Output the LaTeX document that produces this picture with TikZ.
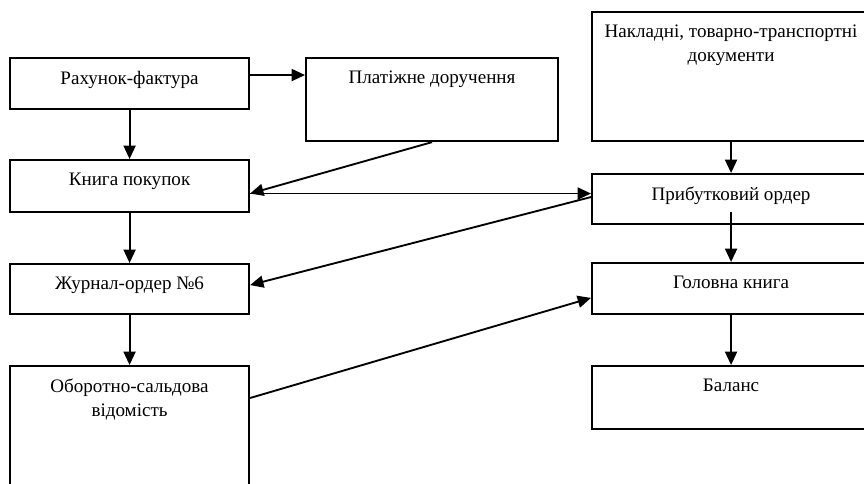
\documentclass[tikz,border=0pt]{standalone}
\usepackage{fontspec}
\setmainfont{Liberation Serif}
\usepackage{tikz}
\usetikzlibrary{positioning, arrows.meta, shapes}
\tikzset{
    doc/.style={draw, rectangle, line width=1.6pt, anchor=north west, inner sep=0pt, minimum width=179.25pt},
    docR/.style={doc, minimum width=208.5pt},
    doctext/.style={anchor=north, yshift=-10.5pt, inner sep=0pt, align=center, font=\fontsize{14.3pt}{18pt}\selectfont},
    conn/.style={-{Triangle[length=10pt, width=9pt]}, line width=1.4pt},
}
\begin{document}
\begin{tikzpicture}[x=0.75pt, y=-0.75pt]
            \fill[white] (0,0) rectangle (864,484);
            \clip (0,0) rectangle (864,484);

            \node [doc, minimum height=38.25pt, label={[doctext]north:Рахунок-фактура}] (fact) at (9,57) {};
            \node [doc, minimum width=189pt, minimum height=62.25pt, label={[doctext]north:Платіжне доручення}] (pay) at (305,57) {};
            \node [doc, minimum height=39pt, label={[doctext]north:Книга покупок}] (buyb) at (9,159) {};
            \node [doc, minimum height=37.5pt, label={[doctext]north:Журнал-ордер №6}] (jour) at (9,263) {};
            \node [doc, minimum height=105pt, label={[doctext]north:Оборотно-сальдова\\відомість}] (turn) at (9,365) {};

            \node [docR, minimum height=96.75pt, label={[doctext]north:Накладні, товарно-транспортні\\документи}] (wayb) at (591,11) {};
            \node [docR, minimum height=37.5pt, label={[doctext]north:Прибутковий ордер}] (recv) at (591,173) {};
            \node [docR, minimum height=38.25pt, label={[doctext]north:Головна книга}] (ledg) at (591,262) {};
            \node [docR, minimum height=47.25pt, label={[doctext]north:Баланс}] (bal) at (591,365) {};

            \coordinate (f1) at ([yshift=6.4pt]fact.east);
            \coordinate (b1) at ([yshift=-5.6pt]buyb.east);
            \coordinate (j1) at ([yshift=3pt]jour.east);
            \coordinate (t1) at ([yshift=-24.75pt]turn.north east);
            \coordinate (r1) at ([yshift=-9.75pt]recv.center);
            \coordinate (r2) at ([yshift=1.5pt]recv.west);
            \coordinate (l1) at ([yshift=-7pt]ledg.west);

            \draw[conn] (f1) -- (f1 -| pay.west);
            \draw[conn] (fact) -- (buyb);
            \draw[conn] (buyb) -- (jour);
            \draw[conn] (jour) -- (turn);

            \draw[conn] (pay.south) -- (b1);
            \draw[conn] (b1) -- (b1 -| recv.west);
            \draw[conn] (r2) -- (j1);
            \draw[conn] (t1) -- (l1);

            \draw[conn] (wayb) -- (recv);
            \draw[conn] (r1) -- (r1 |- ledg.north);
            \draw[conn] (ledg) -- (bal);
\end{tikzpicture}
\end{document}
